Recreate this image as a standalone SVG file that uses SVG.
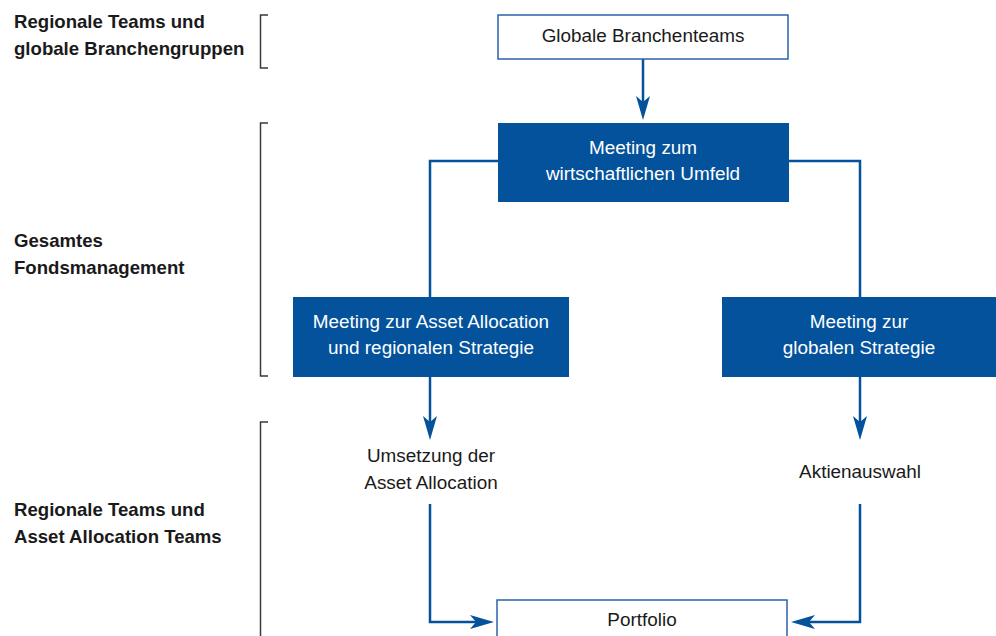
<svg xmlns="http://www.w3.org/2000/svg" width="996" height="636" viewBox="0 0 996 636">
<style>
.lbl{font-family:"Liberation Sans",Arial,sans-serif;font-size:18.6px;font-weight:bold;fill:#1a1a1a}
.t{font-family:"Liberation Sans",Arial,sans-serif;font-size:18.9px;fill:#1a1a1a;text-anchor:middle}
.tw{font-family:"Liberation Sans",Arial,sans-serif;font-size:18.9px;fill:#ffffff;text-anchor:middle}
.solid{fill:#03529b}
.outline{fill:#ffffff;stroke:#2b63a6;stroke-width:1.5}
.conn{fill:none;stroke:#03529b;stroke-width:2.5}
.br{fill:none;stroke:#3a3a3a;stroke-width:1.5}
</style>
<defs>
<marker id="ah" markerUnits="userSpaceOnUse" markerWidth="30" markerHeight="20" refX="12" refY="7" orient="auto" overflow="visible">
<path d="M0,0 L24,7 L0,14 L6,7 Z" fill="#03529b"/>
</marker>
</defs>
<rect width="996" height="636" fill="#ffffff"/>
<g id="brackets">
<path class="br" d="M268,15 H260.5 V68 H268"/>
<path class="br" d="M268,123 H260.5 V376 H268"/>
<path class="br" d="M268,422 H260.5 V640"/>
</g>
<g id="labels">
<text class="lbl" x="14" y="28">Regionale Teams und</text>
<text class="lbl" x="14" y="55">globale Branchengruppen</text>
<text class="lbl" x="14" y="247">Gesamtes</text>
<text class="lbl" x="14" y="274">Fondsmanagement</text>
<text class="lbl" x="14" y="516">Regionale Teams und</text>
<text class="lbl" x="14" y="543">Asset Allocation Teams</text>
</g>
<g id="connectors">
<path class="conn" d="M643,59 V108" marker-end="url(#ah)"/>
<path class="conn" d="M498,161 H430 V297"/>
<path class="conn" d="M789,161 H860 V297"/>
<path class="conn" d="M430,377 V428" marker-end="url(#ah)"/>
<path class="conn" d="M860,377 V428" marker-end="url(#ah)"/>
<path class="conn" d="M430,504 V622 H482" marker-end="url(#ah)"/>
<path class="conn" d="M860,504 V622 H803" marker-end="url(#ah)"/>
</g>
<g id="n-global">
<rect class="outline" x="498" y="15" width="290" height="44"/>
<text class="t" x="643" y="42">Globale Branchenteams</text>
</g>
<g id="n-meeting-umfeld">
<rect class="solid" x="498" y="123" width="291" height="79"/>
<text class="tw" x="643" y="154">Meeting zum</text>
<text class="tw" x="643" y="180">wirtschaftlichen Umfeld</text>
</g>
<g id="n-meeting-asset">
<rect class="solid" x="293" y="297" width="276" height="80"/>
<text class="tw" x="431" y="328">Meeting zur Asset Allocation</text>
<text class="tw" x="431" y="354">und regionalen Strategie</text>
</g>
<g id="n-meeting-global">
<rect class="solid" x="722" y="297" width="280" height="80"/>
<text class="tw" x="859" y="328">Meeting zur</text>
<text class="tw" x="859" y="354">globalen Strategie</text>
</g>
<g id="n-umsetzung">
<text class="t" x="431" y="462">Umsetzung der</text>
<text class="t" x="431" y="489">Asset Allocation</text>
</g>
<g id="n-aktien">
<text class="t" x="860" y="478">Aktienauswahl</text>
</g>
<g id="n-portfolio">
<rect class="outline" x="497" y="600" width="290" height="50"/>
<text class="t" x="642" y="626">Portfolio</text>
</g>
</svg>
